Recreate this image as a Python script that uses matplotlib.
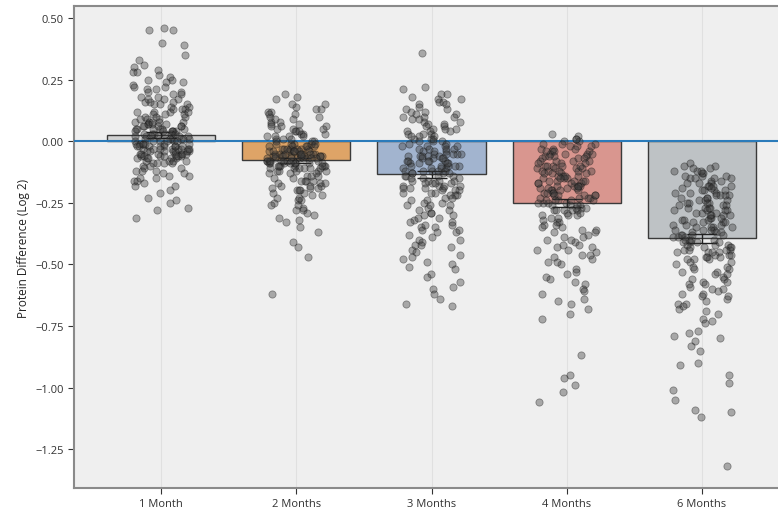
import numpy as np
import pandas as pd
import matplotlib
matplotlib.use("Agg")
import matplotlib.pyplot as plt
import seaborn as sns

# categories and bar values
groups = ["1 Month", "2 Months", "3 Months", "4 Months", "6 Months"]
bar_means = [0.025, -0.078, -0.134, -0.252, -0.394]
bar_err = [0.012, 0.01, 0.014, 0.016, 0.018]
bar_colors = ["#d2d2d2", "#dea467", "#a2b4cf", "#d9968f", "#bec2c5"]

# individual protein differences (log2)
m1 = [0.46, 0.45, 0.45, 0.40, 0.39, 0.35, 0.33, 0.31, 0.30, 0.29, 0.28, 0.27, 0.26, 0.25, 0.25,
      0.24, 0.23, 0.22, 0.21, 0.21, 0.20,
      0.19, 0.18, 0.18, 0.17, 0.17, 0.16, 0.16, 0.15, 0.15, 0.14, 0.14, 0.13, 0.13, 0.12, 0.12,
      0.12, 0.11, 0.11, 0.10, 0.10,
      0.09, 0.09, 0.08, 0.08, 0.08, 0.07, 0.07, 0.07, 0.06, 0.06, 0.06, 0.05, 0.05, 0.05, 0.05,
      0.04, 0.04, 0.04, 0.04, 0.03, 0.03, 0.03, 0.03, 0.02, 0.02, 0.02, 0.02, 0.01, 0.01, 0.01,
      0.01, 0.00, 0.00, 0.00, 0.00,
      -0.01, -0.01, -0.01, -0.02, -0.02, -0.02, -0.03, -0.03, -0.03, -0.04, -0.04, -0.04, -0.05,
      -0.05, -0.05, -0.06, -0.06, -0.07, -0.07, -0.08, -0.08, -0.09, -0.09, -0.10,
      -0.01, -0.02, -0.03, -0.04, -0.05, -0.06, -0.07, -0.02, -0.04, -0.06, -0.03, -0.05,
      -0.11, -0.12, -0.12, -0.13, -0.14, -0.15, -0.15, -0.16, -0.17, -0.18,
      -0.20, -0.21, -0.23, -0.25, -0.27, -0.28, -0.31,
      0.08, 0.05, 0.02, -0.01, -0.03, -0.05, -0.07, -0.09, 0.10, 0.07, 0.04, 0.01, -0.02, -0.04,
      -0.06, -0.08, 0.06, 0.03, 0.00, -0.02, -0.05, -0.10, -0.12, 0.11, 0.09, 0.05, 0.02, -0.01,
      -0.03, -0.06, -0.08, -0.11, -0.14, 0.13, 0.15, 0.17, 0.20, 0.24, 0.28, 0.03, 0.01, -0.02,
      -0.04, -0.07, -0.09, -0.13, -0.16, 0.06, 0.04, 0.00, -0.01, -0.03, -0.06, 0.08, 0.12, 0.16,
      0.19, 0.22, -0.18, -0.24]
m2 = [0.19, 0.18, 0.17, 0.15, 0.14, 0.13, 0.12, 0.11, 0.10, 0.10, 0.09, 0.08, 0.07, 0.07, 0.06,
      0.05, 0.05, 0.04, 0.03, 0.03, 0.02, 0.02, 0.01, 0.01, 0.00, 0.00, 0.08, 0.06, 0.04, 0.02, 0.12,
      -0.01, -0.01, -0.02, -0.02, -0.03, -0.03, -0.03, -0.04, -0.04, -0.04, -0.05, -0.05, -0.05,
      -0.05, -0.06, -0.06, -0.06, -0.06, -0.07, -0.07, -0.07, -0.07, -0.08, -0.08, -0.08, -0.08,
      -0.09, -0.09, -0.09, -0.10, -0.10, -0.10, -0.11, -0.11, -0.11, -0.12, -0.12, -0.13, -0.13,
      -0.14, -0.14, -0.15,
      -0.02, -0.04, -0.05, -0.06, -0.07, -0.08, -0.09, -0.10, -0.03, -0.06, -0.08, -0.11, -0.04,
      -0.07, -0.05, -0.09, -0.12, -0.01, -0.03, -0.06,
      -0.16, -0.16, -0.17, -0.18, -0.18, -0.19, -0.20, -0.20, -0.21, -0.22, -0.23, -0.24, -0.25,
      -0.26, -0.27, -0.28, -0.29, -0.30, -0.17, -0.19, -0.21, -0.24, -0.16,
      -0.32, -0.35, -0.37, -0.41, -0.43, -0.47, -0.62,
      -0.02, -0.04, -0.06, -0.08, -0.10, -0.12, -0.03, -0.05, -0.07, -0.09, -0.11, -0.13, -0.01,
      -0.04, -0.06, -0.08, -0.10, 0.00, 0.02, 0.04, 0.06, -0.02, -0.05, -0.07, -0.09, -0.14,
      -0.16, -0.18, -0.20, -0.22, -0.03, -0.06, -0.08, -0.11, 0.01, 0.03, 0.05, 0.09, 0.11,
      -0.15, -0.17, -0.19, -0.23, -0.26, -0.04, -0.07, -0.09, -0.12, -0.01, -0.05, -0.10, 0.13,
      0.15, -0.28, -0.31, -0.33]
m3 = [0.36, 0.22, 0.21, 0.19, 0.18, 0.17, 0.16, 0.16, 0.15, 0.14, 0.13, 0.12, 0.12, 0.11, 0.10,
      0.10, 0.09, 0.08, 0.08, 0.07, 0.06, 0.06, 0.05, 0.05, 0.04, 0.04, 0.03, 0.03, 0.02, 0.02,
      0.01, 0.01, 0.00, 0.00,
      -0.01, -0.02, -0.02, -0.03, -0.03, -0.04, -0.04, -0.05, -0.05, -0.05, -0.06, -0.06, -0.07,
      -0.07, -0.07, -0.08, -0.08, -0.09, -0.09, -0.10, -0.10, -0.10, -0.11, -0.11, -0.12, -0.12,
      -0.12, -0.13, -0.13, -0.14, -0.14, -0.15, -0.15, -0.16, -0.16, -0.17, -0.17, -0.18, -0.18,
      -0.19, -0.19, -0.20, -0.20, -0.21, -0.21, -0.22, -0.22, -0.23, -0.24, -0.25,
      -0.03, -0.06, -0.09, -0.11, -0.14, -0.17, -0.19, -0.08, -0.13, -0.05, -0.16, -0.10,
      -0.26, -0.26, -0.27, -0.28, -0.29, -0.30, -0.30, -0.31, -0.32, -0.33, -0.34, -0.35, -0.35,
      -0.36, -0.37, -0.38, -0.39, -0.40, -0.41, -0.42, -0.43, -0.44, -0.45,
      -0.47, -0.48, -0.49, -0.50, -0.52, -0.54, -0.55, -0.59, -0.60, -0.62, -0.64, -0.66, -0.67,
      0.03, 0.01, -0.02, -0.04, -0.06, -0.08, -0.10, -0.12, -0.14, -0.16, -0.18, -0.20, -0.22,
      -0.24, 0.05, 0.07, 0.09, 0.11, 0.13, 0.02, -0.01, -0.03, -0.05, -0.07, -0.09, -0.11, -0.13,
      -0.15, -0.17, -0.19, -0.21, -0.23, -0.26, -0.28, -0.31, -0.34, -0.37, -0.40, 0.15, 0.17,
      0.19, 0.00, -0.06, -0.12, -0.18, -0.25, -0.29, -0.33, -0.36, -0.42, -0.46, -0.51, -0.57,
      0.10, 0.04, -0.02, -0.08]
m4 = [0.03, 0.02, 0.01, 0.00, 0.00, -0.01, -0.01, -0.02, -0.02, -0.03, -0.03, -0.04, -0.04,
      -0.05, -0.05, -0.06, -0.06, -0.07, -0.07, -0.08, -0.08, -0.09, -0.09, -0.10, -0.10,
      -0.11, -0.11, -0.12, -0.12, -0.13, -0.13, -0.14, -0.14, -0.15, -0.15, -0.16, -0.16, -0.17,
      -0.17, -0.18, -0.18, -0.19, -0.19, -0.20, -0.20, -0.21, -0.21, -0.22, -0.22, -0.23, -0.23,
      -0.24, -0.24, -0.25, -0.25, -0.26, -0.26, -0.27, -0.27, -0.28, -0.28, -0.29, -0.30, -0.30,
      -0.05, -0.08, -0.12, -0.15, -0.18, -0.20, -0.22, -0.25, -0.28, -0.14, -0.17, -0.21, -0.24,
      -0.10, -0.19, -0.13, -0.16, -0.23, -0.26, -0.11,
      -0.31, -0.32, -0.33, -0.34, -0.35, -0.36, -0.37, -0.38, -0.39, -0.40, -0.41, -0.42, -0.43,
      -0.44, -0.45, -0.46, -0.47, -0.48, -0.49, -0.50, -0.33, -0.36, -0.44,
      -0.52, -0.54, -0.55, -0.57, -0.58, -0.60, -0.62, -0.64, -0.65, -0.68, -0.70, -0.72,
      -0.87, -0.95, -0.96, -0.99, -1.02, -1.06,
      -0.02, -0.04, -0.06, -0.08, -0.10, -0.12, -0.14, -0.16, -0.18, -0.20, -0.22, -0.24, -0.26,
      -0.28, -0.03, -0.07, -0.11, -0.15, -0.19, -0.23, -0.27, -0.01, -0.05, -0.09, -0.13, -0.17,
      -0.21, -0.25, -0.29, -0.31, -0.34, -0.37, -0.40, -0.43, -0.46, -0.49, 0.01, -0.06, -0.12,
      -0.18, -0.24, -0.30, -0.35, -0.39, -0.42, -0.53, -0.56, -0.61, -0.66, -0.04, -0.10, -0.16,
      -0.22, -0.28]
m6 = [-0.09, -0.10, -0.10, -0.11, -0.12, -0.12, -0.13, -0.14, -0.14, -0.15, -0.15, -0.16, -0.17,
      -0.17, -0.18, -0.18, -0.19, -0.20, -0.20, -0.21, -0.21, -0.22, -0.22, -0.23, -0.23, -0.24,
      -0.24, -0.25, -0.25, -0.26, -0.26, -0.27, -0.27, -0.28, -0.28, -0.29, -0.29, -0.30, -0.30,
      -0.31, -0.31, -0.32, -0.32, -0.33, -0.33, -0.34, -0.34, -0.35, -0.35, -0.36, -0.36, -0.37,
      -0.37, -0.38, -0.38, -0.39, -0.39, -0.40, -0.40, -0.41, -0.41, -0.42, -0.42, -0.43, -0.43,
      -0.44, -0.44, -0.45, -0.45, -0.46, -0.46, -0.47, -0.48, -0.49, -0.50,
      -0.15, -0.20, -0.25, -0.30, -0.35, -0.40, -0.45, -0.22, -0.28, -0.33, -0.38, -0.43, -0.48,
      -0.53, -0.58, -0.18, -0.27, -0.36, -0.42, -0.47,
      -0.51, -0.52, -0.53, -0.54, -0.55, -0.56, -0.57, -0.58, -0.59, -0.60, -0.61, -0.62, -0.63,
      -0.64, -0.65, -0.66, -0.68, -0.70, -0.72, -0.74,
      -0.77, -0.79, -0.80, -0.81, -0.85, -0.90, -0.91, -0.95, -0.98, -1.01, -1.05, -1.09, -1.10,
      -1.12, -1.32,
      -0.11, -0.13, -0.16, -0.19, -0.21, -0.24, -0.27, -0.29, -0.32, -0.34, -0.37, -0.39, -0.41,
      -0.44, -0.46, -0.49, -0.12, -0.14, -0.17, -0.20, -0.23, -0.26, -0.28, -0.31, -0.33, -0.36,
      -0.38, -0.41, -0.43, -0.45, -0.48, -0.51, -0.54, -0.57, -0.60, -0.63, -0.66, -0.69, -0.15,
      -0.18, -0.22, -0.25, -0.30, -0.35, -0.40, -0.44, -0.47, -0.52, -0.56, -0.62, -0.67, -0.73,
      -0.78, -0.83]
yticks = [0.5, 0.25, 0.0, -0.25, -0.5, -0.75, -1.0, -1.25]

plt.rcParams['font.family'] = ['Open Sans', 'DejaVu Sans']

values = [m1, m2, m3, m4, m6]
df = pd.DataFrame({
    "group": [g for g, v in zip(groups, values) for _ in v],
    "diff": [d for v in values for d in v],
})

fig = plt.figure(figsize=(7.78, 5.10), dpi=100)
ax = fig.add_axes([74 / 778, 21 / 510, 715 / 778, 482 / 510])
ax.set_facecolor('#efefef')

x = np.arange(len(groups))
for xi in x:
    ax.axvline(xi, color='#e0e0e0', linewidth=0.8, zorder=0)

ax.bar(x, bar_means, width=0.8, color=bar_colors, edgecolor='#3a3a3a', linewidth=1.0, zorder=2)
ax.axhline(0, color='#2b7bba', linewidth=1.5, zorder=3)

ax.errorbar(x, bar_means, yerr=bar_err, fmt='none', ecolor='#222222', elinewidth=1.0,
            capsize=11, capthick=1.0, zorder=3.5)

# seaborn jitter only spreads the points sideways
np.random.seed(3)
sns.stripplot(data=df, x="group", y="diff", order=groups, ax=ax, jitter=0.22,
              color='#3c3c3c', alpha=0.4, size=5.2, linewidth=0.6, edgecolor='#111111',
              zorder=4)

ax.set_xlim(-0.644, 4.644)
ax.set_ylim(-1.408, 0.549)
ax.set_yticks(yticks)
ax.set_yticklabels([f"{v:.2f}".replace("-", "\u2212") for v in yticks])
ax.set_xlabel("")
ax.set_ylabel("Protein Difference (Log 2)", fontsize=8.5, color='#222222')
ax.tick_params(axis='both', labelsize=8, colors='#333333', length=4, width=0.8)
ax.grid(False)

for s in ax.spines.values():
    s.set_color('#8a8a8a')
    s.set_linewidth(1.5)
ax.spines['right'].set_visible(False)

fig.savefig("out.png", dpi=100)
